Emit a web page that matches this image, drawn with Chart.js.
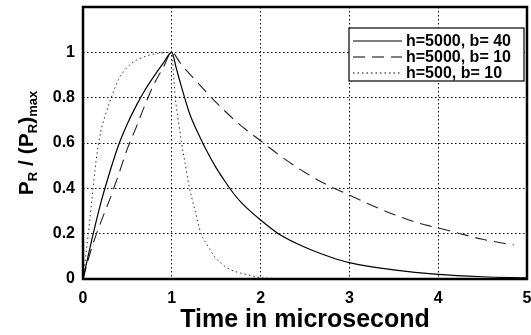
<!DOCTYPE html>
<html>
<head>
<meta charset="utf-8">
<script src="https://cdn.jsdelivr.net/npm/chart.js@4/dist/chart.umd.min.js"></script>
<style>
  html, body { margin: 0; padding: 0; background: #fff; }
  #wrap { width: 531px; height: 335px; }
</style>
</head>
<body>
<div id="wrap"><canvas id="pulse"></canvas></div>
<script>
const seriesLabels = ['h=5000, b= 40', 'h=5000, b= 10', 'h=500, b= 10'];

// h=5000, b=40 (solid)
const solidT = [0, 0.1, 0.2, 0.3, 0.4, 0.5, 0.6, 0.7, 0.8, 0.9, 1.0, 1.05, 1.1, 1.2, 1.3, 1.4, 1.5, 1.6, 1.7, 1.8, 2.0, 2.2, 2.5, 2.8, 3.0, 3.5, 4.0, 4.5, 5.0];
const solidY = [0, 0.175, 0.335, 0.47, 0.59, 0.685, 0.765, 0.835, 0.895, 0.95, 1.0, 0.93, 0.86, 0.73, 0.64, 0.56, 0.49, 0.43, 0.375, 0.33, 0.26, 0.2, 0.14, 0.095, 0.072, 0.04, 0.02, 0.01, 0.005];

// h=5000, b=10 (dashed)
const dashT = [0, 0.1, 0.2, 0.3, 0.4, 0.5, 0.6, 0.7, 0.8, 0.9, 1.0, 1.1, 1.2, 1.4, 1.6, 1.8, 2.0, 2.25, 2.5, 2.75, 3.0, 3.25, 3.5, 3.75, 4.0, 4.25, 4.5, 4.85];
const dashY = [0, 0.14, 0.25, 0.35, 0.46, 0.575, 0.67, 0.77, 0.86, 0.93, 1.0, 0.95, 0.905, 0.82, 0.74, 0.67, 0.61, 0.535, 0.47, 0.415, 0.37, 0.325, 0.285, 0.25, 0.225, 0.2, 0.175, 0.15];

// h=500, b=10 (dotted)
const dotT = [0, 0.03, 0.06, 0.1, 0.15, 0.2, 0.25, 0.3, 0.4, 0.5, 0.6, 0.7, 0.8, 0.9, 1.0, 1.02, 1.04, 1.08, 1.11, 1.15, 1.2, 1.25, 1.33, 1.4, 1.48, 1.6, 1.7, 1.84, 2.0, 2.2];
const dotY = [0, 0.1, 0.2, 0.35, 0.53, 0.65, 0.72, 0.78, 0.88, 0.935, 0.965, 0.982, 0.993, 0.998, 1.0, 0.9, 0.8, 0.68, 0.6, 0.51, 0.4, 0.32, 0.2, 0.15, 0.1, 0.055, 0.035, 0.02, 0.006, 0.002];

const xTicks = [0, 1, 2, 3, 4, 5];
const yTicks = [0, 0.2, 0.4, 0.6, 0.8, 1];

const toPoints = (ts, ys) => ts.map((t, i) => ({ x: t, y: ys[i] }));
const FONT = "'Liberation Sans', Arial, sans-serif";

const frameAndLegend = {
  id: 'frameAndLegend',
  afterDraw(chart) {
    const { ctx, chartArea: a } = chart;
    ctx.save();
    // plot frame
    ctx.strokeStyle = '#000';
    ctx.lineWidth = 2.5;
    ctx.setLineDash([]);
    ctx.strokeRect(a.left, a.top, a.right - a.left, a.bottom - a.top);

    // legend box
    const bx = 349, by = 28, bw = 175, bh = 53;
    ctx.fillStyle = '#fff';
    ctx.fillRect(bx, by, bw, bh);
    ctx.lineWidth = 1.2;
    ctx.strokeRect(bx, by, bw, bh);
    ctx.font = `bold 16px ${FONT}`;
    ctx.textBaseline = 'middle';
    chart.data.datasets.forEach((ds, i) => {
      const y = by + 13 + i * 16;
      ctx.beginPath();
      ctx.setLineDash(ds.borderDash || []);
      ctx.lineWidth = ds.borderWidth;
      ctx.moveTo(353, y);
      ctx.lineTo(402, y);
      ctx.stroke();
      ctx.setLineDash([]);
      ctx.fillStyle = '#000';
      ctx.fillText(ds.label, 406, y + 1);
    });

    // y axis title with subscripts
    const parts = [
      ['P', false], ['R', true], [' / (', false], ['P', false], ['R', true], [')', false], ['max', true]
    ];
    const big = `bold 21px ${FONT}`, small = `bold 13px ${FONT}`;
    let total = 0;
    parts.forEach(([s, sub]) => { ctx.font = sub ? small : big; total += ctx.measureText(s).width; });
    ctx.translate(25, (a.top + a.bottom) / 2);
    ctx.rotate(-Math.PI / 2);
    ctx.textBaseline = 'alphabetic';
    let x = -total / 2;
    parts.forEach(([s, sub]) => {
      ctx.font = sub ? small : big;
      ctx.fillText(s, x, sub ? 12 : 8);
      x += ctx.measureText(s).width;
    });
    ctx.restore();
  }
};

new Chart(document.getElementById('pulse').getContext('2d'), {
  type: 'line',
  data: {
    datasets: [
      { label: seriesLabels[0], data: toPoints(solidT, solidY), borderColor: '#000', borderWidth: 1.2, borderDash: [] },
      { label: seriesLabels[1], data: toPoints(dashT, dashY), borderColor: '#222', borderWidth: 1.1, borderDash: [12, 7] },
      { label: seriesLabels[2], data: toPoints(dotT, dotY), borderColor: '#333', borderWidth: 1, borderDash: [1.5, 3] }
    ]
  },
  options: {
    responsive: true,
    maintainAspectRatio: false,
    animation: false,
    layout: { padding: { top: 7, right: 4, left: 0, bottom: 0 } },
    elements: {
      point: { radius: 0 },
      line: { cubicInterpolationMode: 'monotone', fill: false }
    },
    plugins: {
      legend: { display: false },
      tooltip: { enabled: false }
    },
    scales: {
      x: {
        type: 'linear',
        min: 0,
        max: 5,
        afterFit: s => { s.height = 56; s.paddingLeft = 0; s.paddingRight = 0; },
        afterBuildTicks: s => { s.ticks = xTicks.map(v => ({ value: v })); },
        ticks: { color: '#000', padding: 10, maxRotation: 0, font: { family: FONT, size: 16, weight: 'bold' } },
        grid: { color: '#000', lineWidth: 1, drawTicks: false },
        border: { display: false, dash: [1.5, 2.5] },
        title: {
          display: true,
          text: 'Time in microsecond',
          color: '#000',
          padding: { top: 0, bottom: 0 },
          font: { family: FONT, size: 25, weight: 'bold' }
        }
      },
      y: {
        min: 0,
        max: 1.2,
        afterFit: s => { s.width = 83; s.paddingTop = 0; s.paddingBottom = 0; },
        afterBuildTicks: s => { s.ticks = yTicks.concat([1.2]).map(v => ({ value: v })); },
        ticks: {
          color: '#000',
          padding: 8,
          font: { family: FONT, size: 16, weight: 'bold' },
          callback: v => (yTicks.includes(v) ? String(v) : '')
        },
        grid: { color: '#000', lineWidth: 1, drawTicks: false },
        border: { display: false, dash: [1.5, 2.5] }
      }
    }
  },
  plugins: [frameAndLegend]
});
</script>
</body>
</html>
